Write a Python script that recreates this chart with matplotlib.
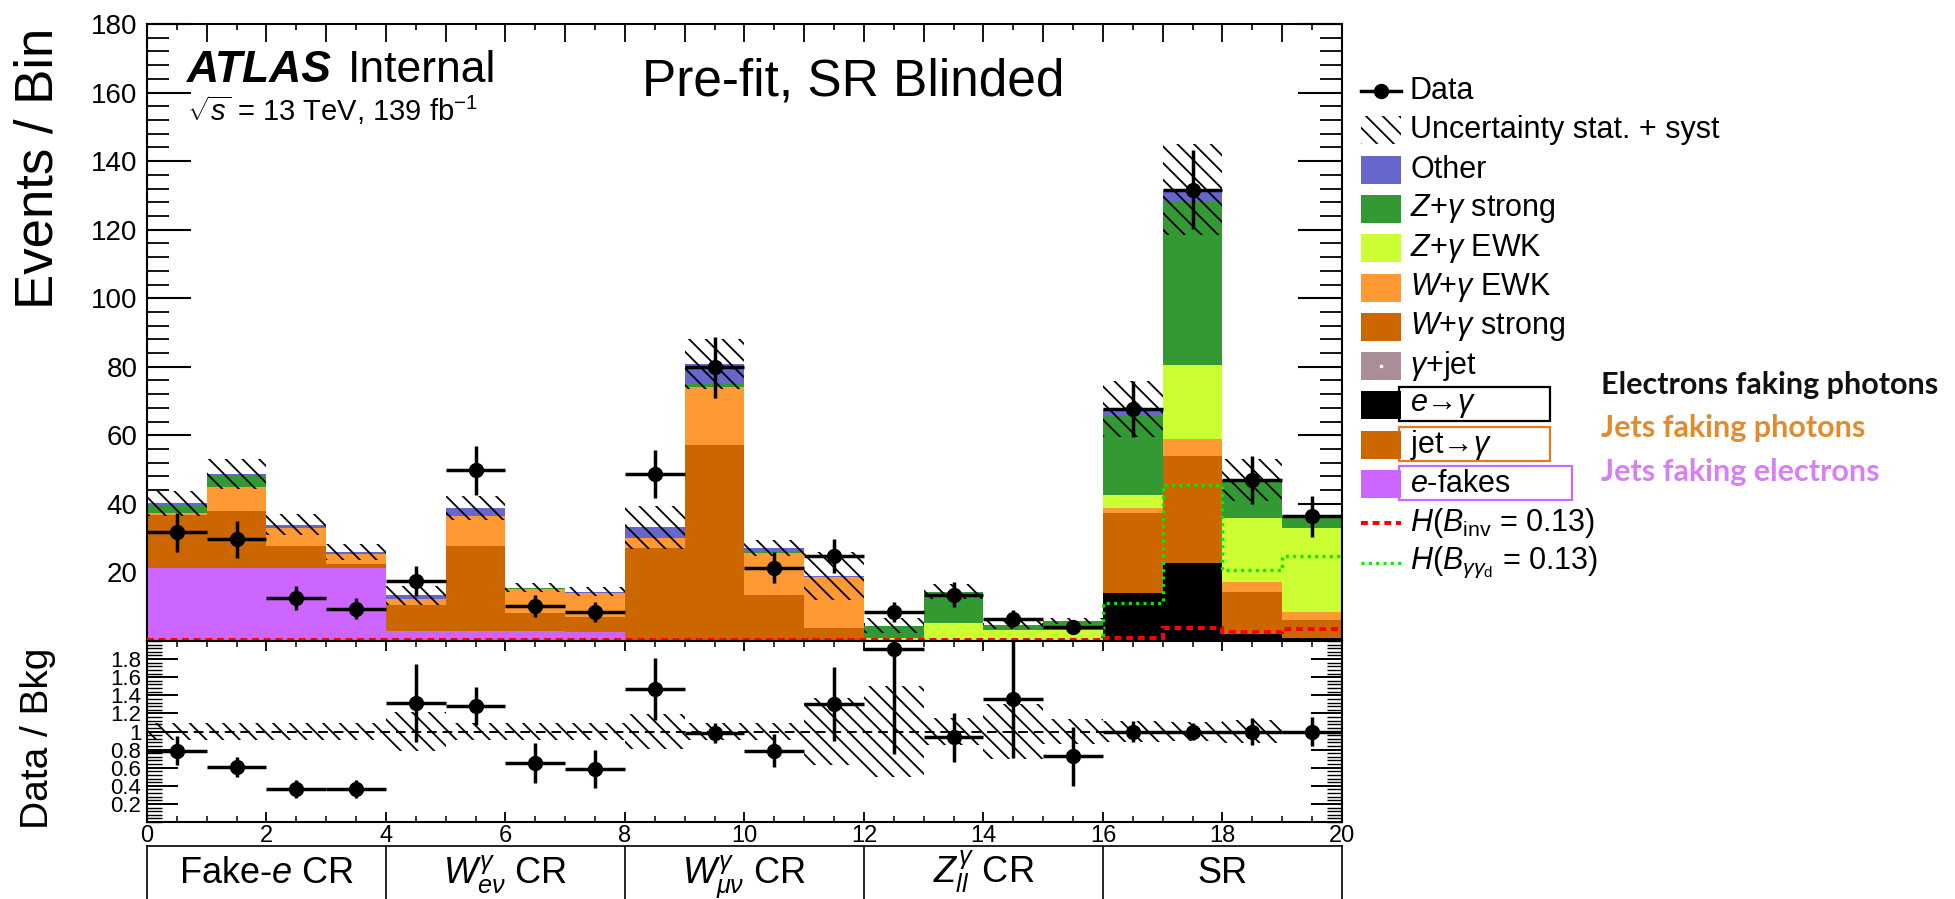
import numpy as np
import matplotlib
matplotlib.use("Agg")
import matplotlib.pyplot as plt
from matplotlib.patches import Rectangle
from matplotlib.ticker import MultipleLocator

plt.rcParams['font.family'] = ['Liberation Sans', 'DejaVu Sans']
plt.rcParams['mathtext.fontset'] = 'custom'
plt.rcParams['mathtext.rm'] = 'Liberation Sans'
plt.rcParams['mathtext.it'] = 'Liberation Sans:italic'
plt.rcParams['mathtext.bf'] = 'Liberation Sans:bold'
plt.rcParams['mathtext.sf'] = 'Liberation Sans'
plt.rcParams['hatch.linewidth'] = 1.3
plt.rcParams['axes.linewidth'] = 1.5

# ---------------- data ----------------
bin_edges = np.arange(0, 21)
e_fakes    = [21.3, 21.3, 21.3, 21.3, 2.9, 2.9, 2.9, 2.7, 0, 0, 0, 0, 0, 0, 0, 0, 0, 0, 0, 0]
jet_fakes  = [15.5, 16.5, 6.3, 1.2, 1.0, 2.0, 1.0, 1.0, 2.0, 3.0, 1.5, 0.5, 0, 0, 0, 0, 0, 0, 0, 0]
e_to_gamma = [0, 0, 0, 0, 0, 0, 0, 0, 0, 0, 0, 0, 0, 0, 0, 0, 13.9, 22.9, 2.0, 1.0]
gamma_jet  = [0, 0, 0, 0, 0, 0, 0, 0, 0, 0, 0, 0, 0, 0, 0, 0, 0, 0, 0, 0]
w_strong   = [0, 0, 0, 0, 6.6, 22.7, 4.2, 3.4, 25.1, 54.1, 11.8, 3.2, 0, 0, 0, 0, 23.4, 31.2, 12.4, 5.1]
w_ewk      = [0.5, 7.1, 5.4, 2.9, 1.7, 8.8, 7.0, 6.8, 2.9, 17.1, 12.3, 14.9, 0, 0, 0, 0, 1.5, 4.7, 2.9, 2.5]
z_ewk      = [0, 0, 0, 0, 0, 0, 0, 0, 0, 0, 0, 0, 0.8, 5.2, 3.3, 3.2, 3.9, 21.7, 18.6, 24.4]
z_strong   = [2.3, 3.1, 0.4, 0.3, 0.1, 0.2, 0.3, 0.1, 0.1, 0.7, 0.4, 0.1, 3.6, 9.2, 1.5, 2.6, 22.9, 47.5, 11.0, 3.4]
other      = [0.6, 0.8, 0.5, 0.3, 1.0, 2.2, 0.2, 0.4, 3.1, 6.0, 1.1, 0.3, 0, 0, 0, 0, 2.1, 3.7, 0.1, 0]

data       = [31.7, 29.7, 12.5, 9.4, 17.5, 49.8, 10.2, 8.4, 48.8, 79.9, 21.4, 24.7, 8.4, 13.5, 6.5, 4.2, 67.7, 131.7, 47.0, 36.4]
data_err   = [5.6, 5.4, 3.5, 3.1, 4.4, 7.1, 3.2, 2.9, 7.0, 8.9, 4.6, 5.0, 2.9, 3.7, 2.5, 2.0, 8.2, 11.5, 6.9, 6.0]
ratio_err  = [0.16, 0.11, 0.10, 0.10, 0.43, 0.21, 0.22, 0.21, 0.34, 0.11, 0.18, 0.41, 1.16, 0.27, 0.65, 0.33, 0.12, 0.09, 0.15, 0.16]
bkg_rel_unc = [0.09, 0.09, 0.09, 0.09, 0.21, 0.09, 0.09, 0.09, 0.19, 0.09, 0.09, 0.37, 0.5, 0.15, 0.3, 0.14, 0.12, 0.10, 0.13, 0.0]

h_inv      = [0.3, 0.3, 0.3, 0.3, 0.3, 0.3, 0.3, 0.3, 0.3, 0.3, 0.3, 0.3, 0.3, 0.3, 0.3, 0.3, 0.8, 3.7, 2.7, 3.5]
h_gamma_d  = [0.1, 0.1, 0.1, 0.1, 0.1, 0.1, 0.1, 0.1, 0.1, 0.1, 0.1, 0.1, 0.1, 0.1, 0.1, 0.1, 11.0, 45.6, 20.8, 24.7]

region_edges = [0, 4, 8, 12, 16, 20]
region_labels = ["Fake-$e$ CR", r"$W^{\gamma}_{e\nu}$ CR", r"$W^{\gamma}_{\mu\nu}$ CR",
                 r"$Z^{\gamma}_{ll}$ CR", "SR"]

# stack: bottom -> top
stack = [
    (e_fakes,    "#cc66ff"),
    (jet_fakes,  "#cc6600"),
    (e_to_gamma, "#000000"),
    (gamma_jet,  "#a98f95"),
    (w_strong,   "#cc6600"),
    (w_ewk,      "#ff9933"),
    (z_ewk,      "#ccff33"),
    (z_strong,   "#339933"),
    (other,      "#6666cc"),
]

HATCH = '\\\\'

# ---------------- figure ----------------
W, H = 1956, 899
fig = plt.figure(figsize=(W / 100, H / 100), dpi=100)

def fx(px):
    return px / W

def fy(py):
    return 1 - py / H

XL, XR = 147, 1342
ax = fig.add_axes([fx(XL), fy(641), fx(XR) - fx(XL), fy(24) - fy(641)])
axr = fig.add_axes([fx(XL), fy(822), fx(XR) - fx(XL), fy(641) - fy(822)])
axc = fig.add_axes([fx(XL), 0, fx(XR) - fx(XL), fy(846)])

centers = 0.5 * (bin_edges[:-1] + bin_edges[1:])
bottom = np.zeros(len(centers))
for vals, col in stack:
    v = np.array(vals, dtype=float)
    ax.bar(bin_edges[:-1], v, width=1.0, bottom=bottom, align='edge',
           color=col, linewidth=0, zorder=2)
    bottom = bottom + v
total = bottom

unc = total * np.array(bkg_rel_unc)
ax.bar(bin_edges[:-1], 2 * unc, width=1.0, bottom=total - unc, align='edge',
       fill=False, hatch=HATCH, edgecolor='black', linewidth=0, zorder=3)

ax.stairs(h_inv, bin_edges, baseline=None, color='#ff0000', lw=2.9,
          linestyle=(0, (1.7, 1.2)), zorder=4)
ax.stairs(h_gamma_d, bin_edges, baseline=None, color='#00ee00', lw=2.4,
          linestyle=(0, (0.9, 1.3)), zorder=4)

ax.errorbar(centers, data, yerr=data_err, xerr=0.5, fmt='o', color='black',
            ms=10, elinewidth=2.5, capsize=0, zorder=5)

ax.set_xlim(0, 20)
ax.set_ylim(0, 180)
ax.set_yticks(np.arange(20, 181, 20))
ax.yaxis.set_minor_locator(MultipleLocator(4))
ax.xaxis.set_major_locator(MultipleLocator(1))
ax.xaxis.set_minor_locator(MultipleLocator(0.5))
ax.tick_params(axis='both', which='both', direction='in', top=True, right=True,
               labelbottom=False)
ax.tick_params(axis='y', which='major', length=32, width=1.5, labelsize=20, pad=7)
ax.tick_params(axis='y', which='minor', length=16, width=1.3)
ax.tick_params(axis='x', which='major', length=13, width=1.3)
ax.tick_params(axis='x', which='minor', length=4, width=1.2)

# ratio panel
ratio = np.array(data) / total
rel = np.array(bkg_rel_unc)
axr.bar(bin_edges[:-1], 2 * rel, width=1.0, bottom=1 - rel, align='edge',
        fill=False, hatch=HATCH, edgecolor='black', linewidth=0, zorder=2)
axr.axhline(1.0, color='black', lw=1.4, ls=(0, (5, 3)), zorder=3)
axr.errorbar(centers, ratio, yerr=ratio_err, xerr=0.5, fmt='o', color='black',
             ms=10, elinewidth=2.5, capsize=0, zorder=5)
axr.set_xlim(0, 20)
axr.set_ylim(0, 2)
axr.set_yticks(np.arange(0.2, 1.81, 0.2))
axr.set_yticklabels(["0.2", "0.4", "0.6", "0.8", "1", "1.2", "1.4", "1.6", "1.8"])
axr.yaxis.set_minor_locator(MultipleLocator(0.04))
axr.xaxis.set_major_locator(MultipleLocator(2))
axr.xaxis.set_minor_locator(MultipleLocator(0.5))
axr.tick_params(axis='both', which='both', direction='in', top=True, right=True)
axr.tick_params(axis='y', which='major', length=22, width=1.4, labelsize=16, pad=4)
axr.tick_params(axis='y', which='minor', length=11, width=1.0)
axr.tick_params(axis='x', which='major', length=7, width=1.3, labelsize=17, pad=2)
axr.tick_params(axis='x', which='minor', length=4, width=1.1)

# region label strip
axc.set_xlim(0, 20)
axc.set_ylim(0, 1)
axc.set_xticks([])
axc.set_yticks([])
axc.spines['bottom'].set_visible(False)
for s in ('top', 'left', 'right'):
    axc.spines[s].set_linewidth(1.2)
axc.vlines(region_edges[1:-1], 0, 1, color='black', lw=1.2)
for i, lab in enumerate(region_labels):
    cx = 0.5 * (region_edges[i] + region_edges[i + 1])
    axc.text(cx, 16 / 53, lab, ha='center', va='baseline', fontsize=26)

# axis titles
fig.text(fx(39), fy(168), "Events / Bin", rotation=90, ha='center', va='center', fontsize=38)
fig.text(fx(38), fy(738), "Data / Bkg", rotation=90, ha='center', va='center', fontsize=28)

# ATLAS label and title
fig.text(fx(187), fy(82), "ATLAS", fontsize=32, fontweight='bold', fontstyle='italic', va='baseline')
fig.text(fx(348), fy(82), "Internal", fontsize=32, va='baseline')
fig.text(fx(187), fy(121), r"$\sqrt{s}$ = 13 TeV, 139 fb$^{-1}$", fontsize=21, va='baseline')
fig.text(fx(642), fy(96), "Pre-fit, SR Blinded", fontsize=37, va='baseline')

# ---------------- legend (drawn in pixel space) ----------------
lax = fig.add_axes([0, 0, 1, 1])
lax.set_xlim(0, W)
lax.set_ylim(H, 0)
lax.axis('off')

entries = [
    ("Data", "data", None),
    ("Uncertainty stat. + syst", "hatch", None),
    ("Other", "box", "#6666cc"),
    (r"$Z$+$\gamma$ strong", "box", "#339933"),
    (r"$Z$+$\gamma$ EWK", "box", "#ccff33"),
    (r"$W$+$\gamma$ EWK", "box", "#ff9933"),
    (r"$W$+$\gamma$ strong", "box", "#cc6600"),
    (r"$\gamma$+jet", "gjet", "#a98f95"),
    (r"$e$→$\gamma$", "box", "#000000"),
    (r"jet→$\gamma$", "box", "#cc6600"),
    (r"$e$-fakes", "box", "#cc66ff"),
    (r"$H$($B_{\mathrm{inv}}$ = 0.13)", "red", None),
    (r"$H$($B_{\gamma\gamma_{\mathrm{d}}}$ = 0.13)", "green", None),
]
y0, step = 91, 39.3
sx0, sx1, tx = 1361, 1401, 1410
boxes = {8: (1550, "#000000"), 9: (1550, "#e07b20"), 10: (1572, "#cc66ff")}
for i, (lab, kind, col) in enumerate(entries):
    yc = y0 + i * step
    if i in boxes:
        xr, bc = boxes[i]
        lax.add_patch(Rectangle((1399, yc - 18), xr - 1399, 34, fill=False,
                                edgecolor=bc, lw=1.6, zorder=2))
    if kind == "data":
        lax.plot([sx0, sx1], [yc, yc], color='black', lw=2.5)
        lax.plot([(sx0 + sx1) / 2], [yc], 'o', color='black', ms=10)
    elif kind == "hatch":
        lax.add_patch(Rectangle((sx0, yc - 14), sx1 - sx0, 28, fill=False,
                                hatch=HATCH, edgecolor='black', lw=0))
    elif kind in ("box", "gjet"):
        lax.add_patch(Rectangle((sx0, yc - 14), sx1 - sx0, 28, facecolor=col,
                                edgecolor='none', zorder=3))
        if kind == "gjet":
            lax.plot([(sx0 + sx1) / 2], [yc], 's', color='white', ms=1.5, zorder=4)
    elif kind == "red":
        lax.plot([sx0, sx1], [yc, yc], color='#ff0000', lw=2.9, ls=(0, (1.7, 1.2)))
    elif kind == "green":
        lax.plot([sx0, sx1], [yc, yc], color='#00ee00', lw=2.4, ls=(0, (0.9, 1.3)))
    lax.text(tx, yc, lab, fontsize=22, va='center', ha='left', zorder=5)

ann_font = ['Lato', 'DejaVu Sans']
lax.text(1601, 385, "Electrons faking photons", family=ann_font, fontweight='bold',
         fontsize=22, color='#111111', va='center')
lax.text(1601, 428, "Jets faking photons", family=ann_font, fontweight='bold',
         fontsize=22, color='#e38a2d', va='center')
lax.text(1601, 472, "Jets faking electrons", family=ann_font, fontweight='bold',
         fontsize=22, color='#d77ff5', va='center')

fig.savefig("out.png", dpi=100)
